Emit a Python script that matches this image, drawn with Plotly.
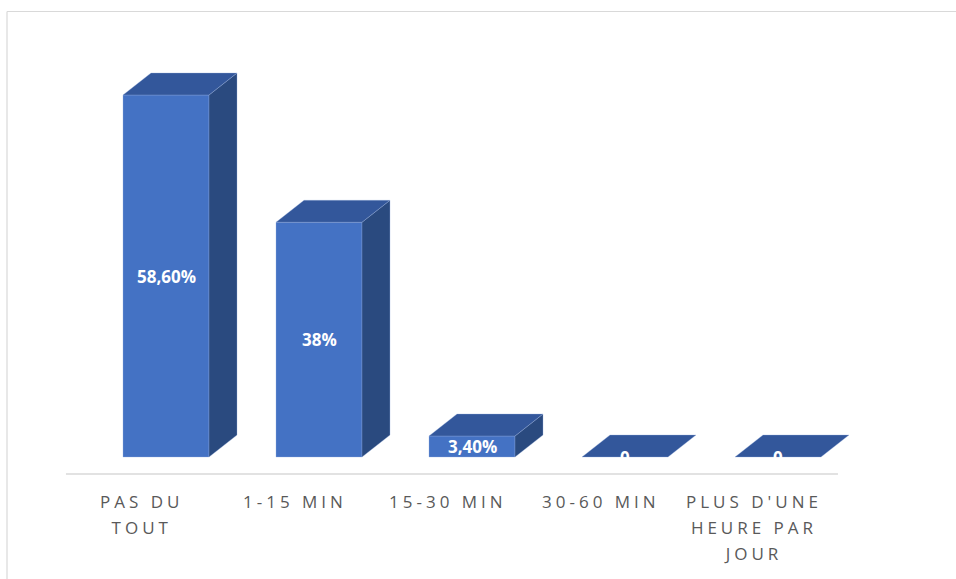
import plotly.graph_objects as go

# Survey responses: daily time spent, share of respondents (%)
categories = ["PAS DU<br>TOUT", "1-15 MIN", "15-30 MIN", "30-60 MIN", "PLUS D'UNE<br>HEURE PAR<br>JOUR"]
values = [58.6, 38, 3.4, 0, 0]
value_labels = ["58,60%", "38%", "3,40%", "0", "0"]

# Box styling
FRONT = "#4472C4"
TOP = "#33579B"
SIDE = "#2A4A7F"
EDGE = "rgba(150,175,220,0.55)"
HALF_W = 0.281      # half width of front face (category units)
DEPTH_X = 0.183     # oblique depth offset (category units)
DEPTH_Y = 3.56      # oblique depth offset (value units)

fig = go.Figure()

def poly(xs, ys, color):
    fig.add_trace(go.Scatter(
        x=xs + [xs[0]], y=ys + [ys[0]], mode="lines", fill="toself",
        fillcolor=color, line=dict(color=EDGE, width=0.6),
        hoverinfo="skip", showlegend=False,
    ))

for i, v in enumerate(values):
    l, r = i - HALF_W, i + HALF_W
    if v > 0:
        # front face
        poly([l, r, r, l], [0, 0, v, v], FRONT)
        # right side face
        poly([r, r + DEPTH_X, r + DEPTH_X, r], [0, DEPTH_Y, v + DEPTH_Y, v], SIDE)
    # top face
    poly([l, r, r + DEPTH_X, l + DEPTH_X], [v, v, v + DEPTH_Y, v + DEPTH_Y], TOP)

annotations = []
# value labels centred on the front faces
for i, (v, t) in enumerate(zip(values, value_labels)):
    annotations.append(dict(
        x=i, y=v / 2, xref="x", yref="y", text=t,
        showarrow=False, xanchor="center", yanchor="middle",
        font=dict(family="Open Sans", size=17, color="white", weight="bold"),
    ))
# category labels
for i, c in enumerate(categories):
    annotations.append(dict(
        x=i - 0.16, y=-5.0, xref="x", yref="y", text=c,
        showarrow=False, xanchor="center", yanchor="top", align="center",
        font=dict(family="Open Sans", size=17, color="#595959"),
    ))

W, H = 956, 579
fig.update_layout(
    width=W, height=H, autosize=False,
    margin=dict(l=0, r=0, t=0, b=0),
    paper_bgcolor="white", plot_bgcolor="white",
    xaxis=dict(range=[-1.085, 5.1634], visible=False, fixedrange=True),
    yaxis=dict(range=[-19.75, 73.98], visible=False, fixedrange=True),
    annotations=annotations,
    shapes=[
        # category axis baseline
        dict(type="line", xref="x", yref="y", x0=-0.654, x1=4.392, y0=-2.75, y1=-2.75,
             line=dict(color="#D9D9D9", width=1.5)),
        # chart frame (top and left edges)
        dict(type="line", xref="paper", yref="paper", x0=7 / W, x1=1, y0=1 - 11.5 / H, y1=1 - 11.5 / H,
             line=dict(color="#D9D9D9", width=1.2)),
        dict(type="line", xref="paper", yref="paper", x0=7 / W, x1=7 / W, y0=0, y1=1 - 11.5 / H,
             line=dict(color="#D9D9D9", width=1.2)),
    ],
    showlegend=False,
)

# Spaced-out lettering and looser line height for the category labels
n_values = len(values)
post = """
var gd = document.getElementById('{plot_id}');
function spaceLabels() {
  gd.querySelectorAll('g.annotation').forEach(function (g) {
    var idx = +g.getAttribute('data-index');
    if (idx >= %d) {
      var t = g.querySelector('text.annotation-text');
      if (!t || t.dataset.spaced) { return; }
      t.dataset.spaced = '1';
      t.style.letterSpacing = '4px';
      t.querySelectorAll('tspan.line').forEach(function (ln) {
        var dy = parseFloat(ln.getAttribute('dy') || '0');
        ln.setAttribute('dy', (dy / 1.3 * 1.53) + 'em');
      });
    }
  });
}
spaceLabels();
gd.on('plotly_afterplot', spaceLabels);
""" % n_values

fig.write_html("out.html", post_script=post)
